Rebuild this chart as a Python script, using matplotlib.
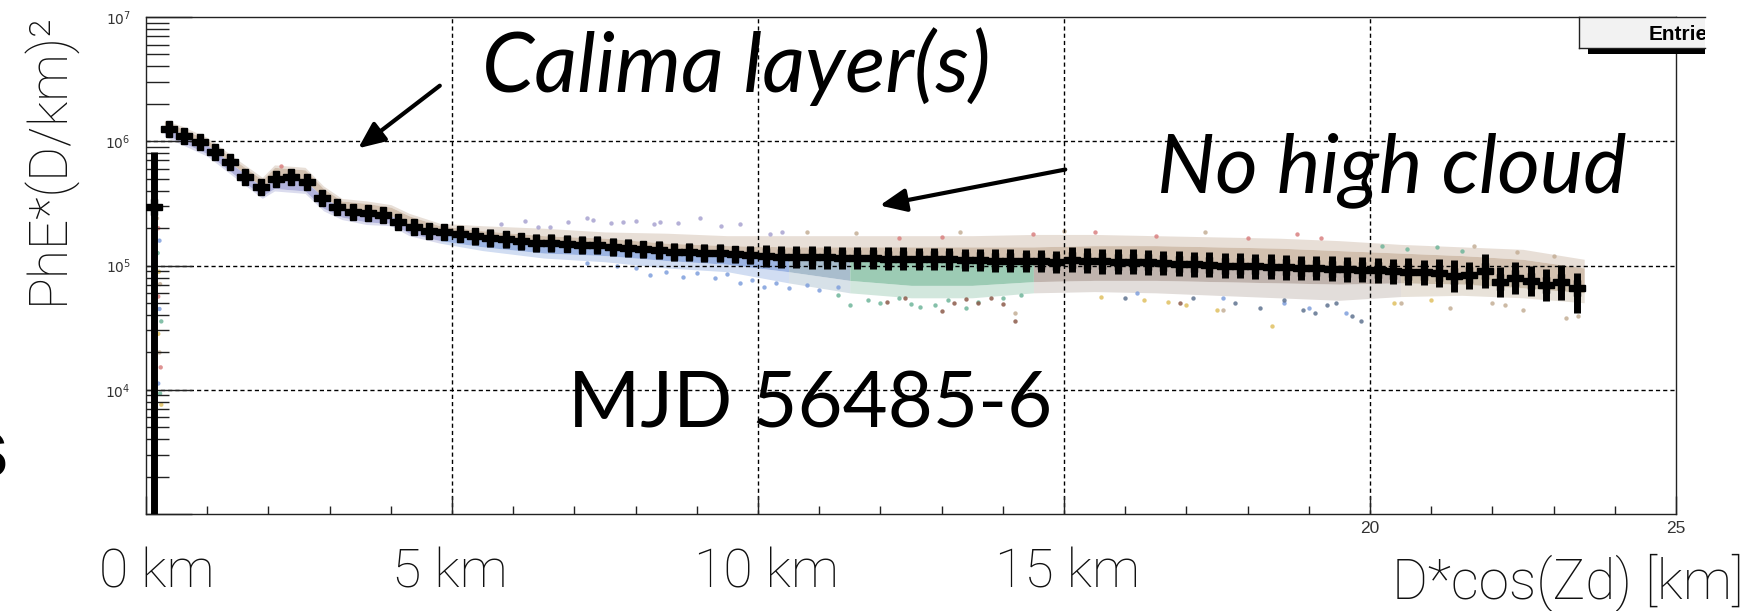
import matplotlib
matplotlib.use("Agg")
import matplotlib.pyplot as plt
import numpy as np
from matplotlib.ticker import FixedLocator, FixedFormatter, NullFormatter
from matplotlib.patches import Rectangle, FancyArrowPatch
from matplotlib.lines import Line2D

W, H = 1753, 611

# ---------------- data ----------------
# profile: bin centres [km] and log10(PhE*(D/km)^2)
profile_x = [0.125, 0.375, 0.625, 0.875, 1.125, 1.375, 1.625, 1.875, 2.125, 2.375,
             2.625, 2.875, 3.125, 3.375, 3.625, 3.875, 4.125, 4.375, 4.625, 4.875,
             5.125, 5.375, 5.625, 5.875, 6.125, 6.375, 6.625, 6.875, 7.125, 7.375,
             7.625, 7.875, 8.125, 8.375, 8.625, 8.875, 9.125, 9.375, 9.625, 9.875,
             10.125, 10.375, 10.625, 10.875, 11.125, 11.375, 11.625, 11.875, 12.125, 12.375,
             12.625, 12.875, 13.125, 13.375, 13.625, 13.875, 14.125, 14.375, 14.625, 14.875,
             15.125, 15.375, 15.625, 15.875, 16.125, 16.375, 16.625, 16.875, 17.125, 17.375,
             17.625, 17.875, 18.125, 18.375, 18.625, 18.875, 19.125, 19.375, 19.625, 19.875,
             20.125, 20.375, 20.625, 20.875, 21.125, 21.375, 21.625, 21.875, 22.125, 22.375,
             22.625, 22.875, 23.125, 23.375]
profile_log = [5.47, 6.10, 6.04, 5.99, 5.91, 5.83, 5.71, 5.63, 5.70, 5.71,
               5.67, 5.54, 5.47, 5.43, 5.42, 5.41, 5.35, 5.31, 5.28, 5.27,
               5.25, 5.235, 5.22, 5.21, 5.195, 5.18, 5.18, 5.175, 5.165, 5.165,
               5.15, 5.14, 5.13, 5.125, 5.11, 5.11, 5.10, 5.10, 5.09, 5.085,
               5.075, 5.07, 5.07, 5.065, 5.065, 5.06, 5.06, 5.06, 5.055, 5.055,
               5.05, 5.05, 5.05, 5.045, 5.045, 5.04, 5.04, 5.035, 5.035, 5.03,
               5.045, 5.04, 5.035, 5.03, 5.03, 5.025, 5.02, 5.015, 5.01, 5.005,
               5.0, 5.0, 4.995, 4.99, 4.985, 4.98, 4.98, 4.975, 4.97, 4.965,
               4.96, 4.955, 4.95, 4.945, 4.94, 4.915, 4.92, 4.955, 4.87, 4.90,
               4.875, 4.845, 4.865, 4.82]
profile_err_hi = [0.44, 0.04, 0.04, 0.04, 0.04, 0.04, 0.04, 0.04, 0.04, 0.04,
                  0.04, 0.04, 0.04, 0.04, 0.04, 0.04, 0.04, 0.04, 0.04, 0.04,
                  0.04, 0.07, 0.07, 0.07, 0.07, 0.07, 0.07, 0.07, 0.07, 0.07,
                  0.07, 0.07, 0.07, 0.07, 0.07, 0.07, 0.07, 0.07, 0.07, 0.07,
                  0.09, 0.09, 0.09, 0.09, 0.09, 0.09, 0.09, 0.09, 0.09, 0.09,
                  0.09, 0.09, 0.09, 0.09, 0.09, 0.09, 0.09, 0.09, 0.09, 0.09,
                  0.10, 0.10, 0.10, 0.10, 0.10, 0.10, 0.10, 0.10, 0.10, 0.10,
                  0.10, 0.10, 0.10, 0.10, 0.10, 0.10, 0.10, 0.10, 0.10, 0.10,
                  0.10, 0.10, 0.11, 0.10, 0.11, 0.13, 0.11, 0.14, 0.12, 0.13,
                  0.12, 0.13, 0.14, 0.12]
profile_err_lo = [2.60, 0.04, 0.04, 0.04, 0.04, 0.04, 0.04, 0.04, 0.04, 0.04,
                  0.04, 0.04, 0.04, 0.04, 0.04, 0.04, 0.04, 0.04, 0.04, 0.04,
                  0.04, 0.07, 0.07, 0.07, 0.07, 0.07, 0.07, 0.07, 0.07, 0.07,
                  0.07, 0.07, 0.07, 0.07, 0.07, 0.07, 0.07, 0.07, 0.07, 0.07,
                  0.09, 0.09, 0.09, 0.09, 0.09, 0.09, 0.09, 0.09, 0.09, 0.09,
                  0.09, 0.09, 0.09, 0.09, 0.09, 0.09, 0.09, 0.09, 0.09, 0.09,
                  0.10, 0.10, 0.10, 0.10, 0.10, 0.10, 0.10, 0.10, 0.10, 0.10,
                  0.10, 0.10, 0.10, 0.10, 0.10, 0.10, 0.10, 0.10, 0.10, 0.10,
                  0.10, 0.10, 0.11, 0.10, 0.11, 0.13, 0.11, 0.14, 0.12, 0.13,
                  0.12, 0.13, 0.14, 0.20]
bin_half_width = 0.125

# scatter cloud: dense core and faint outer envelope (log10) at knots
cloud_x   = [0.3, 0.6, 1.0, 1.5, 1.9, 2.1, 2.6, 2.9, 3.2, 3.6, 4.0, 4.3, 4.8, 5.5, 6.5,
             7.5, 8.5, 9.5, 10.5, 11.5, 12.5, 13.5, 14.5, 15.5, 16.5, 17.5, 18.5, 19.5,
             20.5, 21.5, 22.5, 23.5]
cloud_mid = [6.12, 6.06, 5.97, 5.78, 5.63, 5.70, 5.68, 5.55, 5.46, 5.42, 5.40, 5.33, 5.27,
             5.23, 5.18, 5.16, 5.12, 5.095, 5.07, 5.06, 5.055, 5.045, 5.035, 5.035, 5.02,
             5.0, 4.985, 4.97, 4.955, 4.93, 4.89, 4.84]
cloud_top = [6.16, 6.10, 6.01, 5.83, 5.69, 5.79, 5.77, 5.62, 5.52, 5.50, 5.47, 5.40, 5.32,
             5.28, 5.24, 5.22, 5.18, 5.16, 5.15, 5.15, 5.15, 5.15, 5.15, 5.16, 5.16, 5.15,
             5.14, 5.12, 5.10, 5.08, 5.05, 4.98]
cloud_top_outer = [6.17, 6.12, 6.03, 5.85, 5.71, 5.81, 5.79, 5.64, 5.54, 5.52, 5.49, 5.42,
                   5.34, 5.32, 5.30, 5.27, 5.26, 5.24, 5.24, 5.24, 5.24, 5.24, 5.25, 5.25,
                   5.24, 5.23, 5.22, 5.20, 5.17, 5.15, 5.13, 5.05]
cloud_bot = [6.06, 5.99, 5.90, 5.71, 5.56, 5.62, 5.60, 5.46, 5.39, 5.35, 5.34, 5.26, 5.20,
             5.15, 5.10, 5.08, 5.04, 5.01, 4.95, 4.88, 4.84, 4.84, 4.87, 4.88, 4.88, 4.87,
             4.86, 4.85, 4.86, 4.85, 4.82, 4.78]
cloud_bot_outer = [6.04, 5.97, 5.88, 5.69, 5.54, 5.60, 5.58, 5.44, 5.37, 5.33, 5.32, 5.24,
                   5.18, 5.12, 5.06, 5.03, 4.98, 4.95, 4.86, 4.78, 4.74, 4.74, 4.78, 4.79,
                   4.78, 4.76, 4.74, 4.72, 4.75, 4.76, 4.74, 4.70]
# km ranges of the differently coloured lower parts of the cloud
lower_ranges = [(0.3, 4.8), (4.8, 10.5), (10.5, 11.5), (11.5, 14.5), (14.5, 20.5), (20.5, 23.5)]

# individual scattered points (km, log10)
lav_x = [5.8, 6.2, 6.4, 6.6, 6.9, 7.2, 7.3, 7.6, 7.8, 8.0, 8.3, 8.4, 8.7, 9.05, 9.4, 9.7, 10.2, 10.4]
lav_y = [5.33, 5.36, 5.31, 5.31, 5.35, 5.38, 5.37, 5.34, 5.35, 5.36, 5.33, 5.35, 5.34, 5.38, 5.32, 5.33, 5.25, 5.27]
blue_x = [7.2, 7.7, 8.0, 8.23, 8.5, 8.78, 9.0, 9.3, 9.5, 9.7, 9.9, 10.1, 10.3, 10.5, 10.8, 11.0, 11.3,
          16.2, 17.6, 18.6, 19.0, 19.6]
blue_y = [5.02, 5.0, 4.98, 4.92, 4.95, 4.91, 4.94, 4.9, 4.93, 4.86, 4.88, 4.83, 4.86, 4.82, 4.84, 4.80, 4.83,
          4.78, 4.74, 4.70, 4.66, 4.62]
green_x = [11.3, 11.5, 11.8, 12.0, 12.3, 12.5, 12.65, 12.9, 13.1, 13.4, 13.6, 14.0, 14.3, 20.2, 20.6, 21.1, 21.5]
green_y = [4.76, 4.68, 4.72, 4.70, 4.74, 4.69, 4.67, 4.68, 4.72, 4.66, 4.71, 4.74, 4.76, 5.16, 5.13, 5.15, 5.12]
brown_x = [12.1, 12.4, 13.0, 13.2, 13.4, 13.6, 13.8, 14.0, 14.2, 16.9]
brown_y = [4.71, 4.74, 4.63, 4.70, 4.73, 4.70, 4.74, 4.69, 4.55, 4.70]
slate_x = [16.0, 17.1, 17.8, 18.2, 18.6, 18.9, 19.1, 19.3, 19.45, 19.7, 19.85]
slate_y = [4.74, 4.74, 4.70, 4.66, 4.72, 4.64, 4.62, 4.68, 4.70, 4.59, 4.55]
yel_x = [15.6, 16.3, 16.7, 17.0, 17.5, 18.4, 21.0, 20.4]
yel_y = [4.75, 4.72, 4.71, 4.68, 4.64, 4.51, 4.72, 4.70]
red_x = [2.2, 12.3, 13.0, 14.5, 15.5, 16.5, 18.0, 18.8, 19.2]
red_y = [5.80, 5.22, 5.23, 5.25, 5.27, 5.24, 5.22, 5.25, 5.22]
tan_x = [10.8, 11.6, 13.3, 15.0, 17.3, 20.5, 21.3, 21.7, 22.0, 22.2, 22.4, 22.5, 23.0, 23.2, 23.4, 17.6, 14.2]
tan_y = [5.27, 5.26, 5.27, 5.28, 5.27, 4.70, 4.66, 5.16, 4.70, 4.68, 5.11, 4.64, 5.08, 4.58, 4.59, 4.64, 4.62]
zero_x = [0.18, 0.20, 0.22, 0.19, 0.21, 0.23, 0.20, 0.22, 0.25, 0.20, 0.22, 0.24, 0.20, 0.23, 0.25]
zero_y = [5.38, 5.30, 5.20, 5.10, 4.95, 4.85, 4.75, 4.65, 4.55, 4.45, 4.30, 4.18, 4.05, 3.97, 3.88]

x_major = [0, 5, 10, 15, 20, 25]
x_ticklabels = ["", "", "", "", "20", "25"]
y_major = [1e3, 1e4, 1e5, 1e6, 1e7]
y_ticklabels = ["", r"$10^{4}$", r"$10^{5}$", r"$10^{6}$", r"$10^{7}$"]
km_labels = ["0 km", "5 km", "10 km", "15 km"]

# ---------------- figure ----------------
fig = plt.figure(figsize=(W / 100, H / 100), dpi=100)
fig.patch.set_facecolor("white")
L, R, T, B = 146, 1676, 17, 514
ax = fig.add_axes([L / W, 1 - B / H, (R - L) / W, (B - T) / H])
ax.set_xlim(0, 25)
ax.set_yscale("log")
ax.set_ylim(1e3, 1e7)


def fx(px):
    return px / W


def fy(py):
    return 1 - py / H


cx = np.array(cloud_x)
ctop = 10 ** np.array(cloud_top)
ctopo = 10 ** np.array(cloud_top_outer)
cmid = 10 ** np.array(cloud_mid)
cbot = 10 ** np.array(cloud_bot)
cboto = 10 ** np.array(cloud_bot_outer)

# upper part of the cloud (faint outer + dense core)
ax.fill_between(cx, ctop, ctopo, color="#cdb9a8", alpha=0.45, lw=0, zorder=1)
ax.fill_between(cx, cmid, ctop, color="#cdb9a6", alpha=0.9, lw=0, zorder=1)
lower_cols = ["#a6a8d6", "#8eaadf", "#9db4c6", "#8fc4aa", "#b8aaa3", "#c6b8a2"]
for (a, b), c in zip(lower_ranges, lower_cols):
    m = (cx >= a) & (cx <= b)
    ax.fill_between(cx[m], cboto[m], cbot[m], color=c, alpha=0.4, lw=0, zorder=1)
    ax.fill_between(cx[m], cbot[m], cmid[m], color=c, alpha=0.88, lw=0, zorder=1)

dot = dict(s=10, lw=0, zorder=1.2, alpha=0.85)
ax.scatter(lav_x, 10 ** np.array(lav_y), color="#a8a3d0", **dot)
ax.scatter(blue_x, 10 ** np.array(blue_y), color="#7f9fdc", **dot)
ax.scatter(green_x, 10 ** np.array(green_y), color="#6fb59a", **dot)
ax.scatter(brown_x, 10 ** np.array(brown_y), color="#8c5a4a", **dot)
ax.scatter(slate_x, 10 ** np.array(slate_y), color="#5f7390", **dot)
ax.scatter(yel_x, 10 ** np.array(yel_y), color="#e0c060", **dot)
ax.scatter(red_x, 10 ** np.array(red_y), color="#d98080", **dot)
ax.scatter(tan_x, 10 ** np.array(tan_y), color="#c4ae96", **dot)
zero_cols = ["#c4ae96", "#d98080", "#7f9fdc", "#6fb59a", "#e0c060"]
ax.scatter(zero_x, 10 ** np.array(zero_y),
           color=[zero_cols[i % len(zero_cols)] for i in range(len(zero_x))], **dot)

# profile
px_ = np.array(profile_x)
pl = np.array(profile_log)
pv = 10 ** pl
elo = pv - 10 ** (pl - np.array(profile_err_lo))
ehi = 10 ** (pl + np.array(profile_err_hi)) - pv
ax.errorbar(px_, pv, yerr=[elo, ehi], xerr=bin_half_width, fmt="P", ms=12,
            mfc="black", mec="black", color="black", ecolor="black",
            elinewidth=5.0, capsize=0, zorder=3)

# axes styling (ROOT like)
for s in ax.spines.values():
    s.set_linewidth(1.0)
    s.set_color("#222222")
ax.xaxis.set_major_locator(FixedLocator(x_major))
ax.xaxis.set_major_formatter(FixedFormatter(x_ticklabels))
ax.xaxis.set_minor_locator(FixedLocator([v for v in range(0, 26) if v % 5]))
ax.xaxis.set_minor_formatter(NullFormatter())
ax.yaxis.set_major_locator(FixedLocator(y_major))
ax.yaxis.set_major_formatter(FixedFormatter(y_ticklabels))
ax.yaxis.set_minor_locator(FixedLocator([m * 10 ** e for e in range(3, 7) for m in range(2, 10)]))
ax.yaxis.set_minor_formatter(NullFormatter())
ax.tick_params(axis="x", which="major", direction="in", length=13, width=1.0,
               labelsize=12.5, pad=5, top=False, color="#222222")
ax.tick_params(axis="x", which="minor", direction="in", length=5.8, width=1.0, top=False,
               color="#222222")
ax.tick_params(axis="y", which="major", direction="in", length=33, width=1.0,
               labelsize=10, pad=11, right=False, color="#222222")
ax.tick_params(axis="y", which="minor", direction="in", length=16.5, width=1.0, right=False,
               color="#222222")
for lab in ax.get_xticklabels() + ax.get_yticklabels():
    lab.set_family("Liberation Sans")
    lab.set_color("#333333")

# grid
for xv in [5, 10, 15, 20]:
    ax.axvline(xv, color="black", lw=1.0, ls=(0, (3, 2.2)), zorder=1.5)
for yv in [1e4, 1e5, 1e6]:
    ax.axhline(yv, color="black", lw=1.0, ls=(0, (3, 2.2)), zorder=1.5)

renderer = fig.canvas.get_renderer()


def fit_w(t, target):
    bb = t.get_window_extent(renderer=renderer)
    t.set_fontsize(t.get_fontsize() * target / bb.width)


def fit_h(t, target):
    bb = t.get_window_extent(renderer=renderer)
    t.set_fontsize(t.get_fontsize() * target / bb.height)


# y label
ylab = fig.text(fx(48), fy(158), "PhE*(D/km)\u00b2", rotation=90, ha="center", va="center",
                family="Roboto", fontweight="light", fontsize=38, color="#111111")
fit_h(ylab, 292)

# big km labels under the axis
kmpos = [157, 450, 766, 1068]
kms = []
for s, xc in zip(km_labels, kmpos):
    kms.append(fig.text(fx(xc), fy(588), s, ha="center", va="baseline", family="Roboto",
                        fontweight="light", fontsize=34, color="#111111"))
fit_w(kms[2], 145)
for t in kms:
    t.set_fontsize(kms[2].get_fontsize())

xl = fig.text(fx(1744), fy(598), "D*cos(Zd) [km]", ha="right", va="baseline", family="Roboto",
              fontweight="light", fontsize=34, color="#111111")
fit_w(xl, 352)

# annotations
t1 = fig.text(fx(736), fy(92), "Calima layer(s)", ha="center", va="baseline", family="Lato",
              style="italic", fontsize=60, color="black")
fit_w(t1, 509)
t2 = fig.text(fx(1392), fy(192), "No high cloud", ha="center", va="baseline", family="Lato",
              style="italic", fontsize=60, color="black")
fit_w(t2, 470)
t3 = fig.text(fx(810), fy(427), "MJD 56485-6", ha="center", va="baseline", family="Lato",
              fontsize=60, color="black")
fit_w(t3, 485)

# arrows
for (x0, y0), (x1, y1) in [((442, 84), (356, 150)), ((1068, 169), (877, 206))]:
    fig.patches.append(FancyArrowPatch((fx(x0), fy(y0)), (fx(x1), fy(y1)),
                                       transform=fig.transFigure,
                                       arrowstyle="-|>,head_length=16,head_width=7",
                                       mutation_scale=1, lw=3.0, color="black"))

# stats box (cut off at the right)
bx0, bx1, by0, by1 = 1579, 1705, 17, 48
fig.patches.append(Rectangle((fx(1588), fy(54)), fx(bx1) - fx(1588), (54 - 48) / H,
                             transform=fig.transFigure, color="black", lw=0, zorder=5))
fig.patches.append(Rectangle((fx(bx0), fy(by1)), fx(bx1) - fx(bx0), (by1 - by0) / H,
                             transform=fig.transFigure, facecolor="#f2f2f2", edgecolor="none",
                             zorder=6))
for (xa, ya), (xb, yb) in [((bx0, by0), (bx1, by0)), ((bx0, by0), (bx0, by1)),
                           ((bx0, by1), (bx1, by1))]:
    fig.lines.append(Line2D([fx(xa), fx(xb)], [fy(ya), fy(yb)], transform=fig.transFigure,
                            color="#222222", lw=1.0, zorder=7))
ent = fig.text(fx(1649), fy(40), "Entries", ha="left", va="baseline", family="Liberation Sans",
               fontweight="bold", fontsize=15, color="black", zorder=8)
clip = Rectangle((0, 0), fx(bx1), 1, transform=fig.transFigure)
ent.set_clip_path(clip)

# cut-off letter at the left edge (from the slide)
fig.text(fx(9), fy(477), "s", ha="right", va="baseline", family="Liberation Sans",
         fontweight="bold", fontsize=62, color="black")

fig.savefig("out.png", dpi=100, facecolor="white")
